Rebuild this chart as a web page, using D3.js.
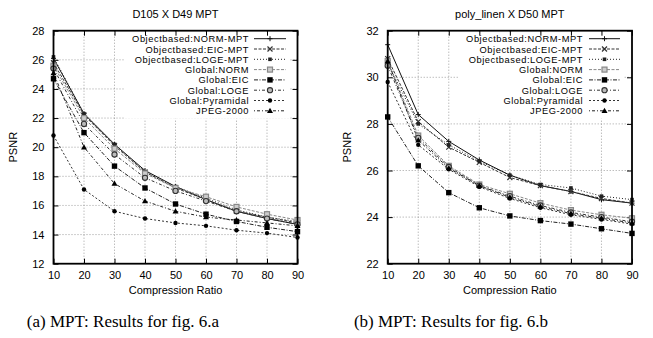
<!DOCTYPE html>
<html><head><meta charset="utf-8">
<script src="https://cdn.jsdelivr.net/npm/d3@7"></script>
<style>body{margin:0;background:#fff}svg{display:block}</style>
</head><body>
<script>
const xValues = [10,20,30,40,50,60,70,80,90];
const seriesNames = ["Objectbased:NORM-MPT","Objectbased:EIC-MPT","Objectbased:LOGE-MPT","Global:NORM","Global:EIC","Global:LOGE","Global:Pyramidal","JPEG-2000"];
const xTicks = [10,20,30,40,50,60,70,80,90];

// Left chart: D105 X D49 MPT
const leftTitle = "D105 X D49 MPT";
const leftYTicks = [12,14,16,18,20,22,24,26,28];
const leftNormMPT = [26.1,22.3,20.2,18.4,17.3,16.4,15.6,15.1,14.7];
const leftEicMPT  = [25.8,22.2,20.1,18.3,17.2,16.4,15.6,15.2,14.8];
const leftLogeMPT = [26.2,22.3,20.2,18.3,17.3,16.5,15.7,15.2,14.9];
const leftGNorm   = [25.6,22.0,19.9,18.2,17.2,16.6,15.9,15.4,15.0];
const leftGEic    = [24.7,21.0,18.7,17.2,16.1,15.4,14.9,14.5,14.2];
const leftGLoge   = [25.4,21.6,19.5,17.9,17.0,16.3,15.6,15.1,14.7];
const leftPyr     = [20.8,17.1,15.6,15.1,14.8,14.6,14.3,14.1,13.8];
const leftJpeg    = [25.1,20.0,17.5,16.3,15.6,15.2,15.0,14.8,14.6];

// Right chart: poly_linen X D50 MPT
const rightTitle = "poly_linen X D50 MPT";
const rightYTicks = [22,24,26,28,30,32];
const rightNormMPT = [31.4,28.4,27.25,26.45,25.8,25.35,25.1,24.75,24.6];
const rightEicMPT  = [30.8,28.1,27.0,26.35,25.7,25.35,25.1,24.8,24.6];
const rightLogeMPT = [30.6,28.0,27.1,26.4,25.8,25.4,25.25,24.9,24.75];
const rightGNorm   = [30.7,27.5,26.2,25.4,25.0,24.6,24.3,24.1,23.95];
const rightGEic    = [28.3,26.2,25.05,24.4,24.05,23.85,23.7,23.5,23.3];
const rightGLoge   = [30.5,27.4,26.15,25.35,24.9,24.5,24.2,24.0,23.8];
const rightPyr     = [29.8,27.1,26.05,25.3,24.8,24.4,24.1,23.9,23.7];
const rightJpeg    = [30.7,27.3,26.1,25.35,24.85,24.45,24.15,23.95,23.75];

const captions = ["(a) MPT: Results for fig. 6.a","(b) MPT: Results for fig. 6.b"];
const xLabel = "Compression Ratio", yLabel = "PSNR";

// styles per series
const styles = [
  {dash:null, color:"#111", marker:"plus"},
  {dash:"3,1.5", color:"#333", marker:"cross"},
  {dash:"1,2", color:"#222", marker:"smallsq"},
  {dash:"3,1.5", color:"#888", marker:"opensq"},
  {dash:"4,1.5,1,1.5", color:"#222", marker:"fillsq"},
  {dash:"3,2,1,2", color:"#333", marker:"opencirc"},
  {dash:"2,2", color:"#333", marker:"fillcirc"},
  {dash:"1,2,3,2", color:"#222", marker:"filltri"}
];

const svg = d3.select("body").append("svg").attr("width",653).attr("height",338)
  .style("font-family","'Liberation Sans', Arial, sans-serif");

function drawMarker(g, type, x, y, color){
  const s = 2.5;
  if(type==="plus"){
    g.append("path").attr("d",`M${x-s},${y}H${x+s}M${x},${y-s}V${y+s}`).attr("stroke",color).attr("stroke-width",1);
  } else if(type==="cross"){
    g.append("path").attr("d",`M${x-s},${y-s}L${x+s},${y+s}M${x-s},${y+s}L${x+s},${y-s}`).attr("stroke",color).attr("stroke-width",1.2);
  } else if(type==="smallsq"){
    g.append("rect").attr("x",x-1.8).attr("y",y-1.8).attr("width",3.6).attr("height",3.6).attr("fill",color);
  } else if(type==="opensq"){
    g.append("rect").attr("x",x-2.5).attr("y",y-2.5).attr("width",5).attr("height",5).attr("fill","#ccc").attr("stroke",color).attr("stroke-width",1.2);
  } else if(type==="fillsq"){
    g.append("rect").attr("x",x-2.7).attr("y",y-2.7).attr("width",5.4).attr("height",5.4).attr("fill","#000");
  } else if(type==="opencirc"){
    g.append("circle").attr("cx",x).attr("cy",y).attr("r",2.6).attr("fill","#bbb").attr("stroke",color).attr("stroke-width",1.1);
  } else if(type==="fillcirc"){
    g.append("circle").attr("cx",x).attr("cy",y).attr("r",2.2).attr("fill","#000");
  } else if(type==="filltri"){
    g.append("path").attr("d",`M${x},${y-3}L${x+3},${y+2.2}L${x-3},${y+2.2}Z`).attr("fill","#000");
  }
}

function chart(opts){
  const {x0,x1,y0,y1,title,yTicks,series,legendTextX,legendLineX0,legendLineX1} = opts;
  const g = svg.append("g");
  const x = d3.scaleLinear().domain([10,90]).range([x0,x1]);
  const y = d3.scaleLinear().domain([yTicks[0],yTicks[yTicks.length-1]]).range([y1,y0]);

  // grid
  const grid = g.append("g").attr("stroke","#888").attr("stroke-width",0.8).attr("stroke-dasharray","1,2");
  xTicks.slice(1,-1).forEach(t=>grid.append("line").attr("x1",x(t)).attr("x2",x(t)).attr("y1",y0).attr("y2",y1));
  yTicks.slice(1,-1).forEach(t=>grid.append("line").attr("x1",x0).attr("x2",x1).attr("y1",y(t)).attr("y2",y(t)));

  // legend background (hides grid)
  g.append("rect").attr("x",legendTextX-124).attr("y",y0+2).attr("width",legendLineX1-legendTextX+128).attr("height",86).attr("fill","#fff");

  // axes with inward ticks
  const axB = d3.axisBottom(x).tickValues(xTicks).tickSizeInner(-5).tickSizeOuter(0).tickPadding(8);
  const axL = d3.axisLeft(y).tickValues(yTicks).tickSizeInner(-5).tickSizeOuter(0).tickPadding(9);
  const axT = d3.axisTop(x).tickValues(xTicks).tickSizeInner(-5).tickSizeOuter(0).tickFormat("");
  const axR = d3.axisRight(y).tickValues(yTicks).tickSizeInner(-5).tickSizeOuter(0).tickFormat("");
  [[axB,`translate(0,${y1})`],[axL,`translate(${x0},0)`],[axT,`translate(0,${y0})`],[axR,`translate(${x1},0)`]].forEach(([a,t])=>{
    const ag = g.append("g").attr("transform",t).call(a);
    ag.select(".domain").remove();
    ag.selectAll("text").attr("font-size",11).attr("font-family","'Liberation Sans', Arial, sans-serif").attr("fill","#000");
    ag.selectAll("line").attr("stroke","#000");
  });

  // series
  const line = d3.line().x((d,i)=>x(xValues[i])).y(d=>y(d));
  series.forEach((s,k)=>{
    const st = styles[k];
    g.append("path").datum(s).attr("d",line).attr("fill","none").attr("stroke",st.color).attr("stroke-width",1)
      .attr("stroke-dasharray",st.dash);
  });
  series.forEach((s,k)=>{
    const st = styles[k];
    s.forEach((v,i)=>drawMarker(g,st.marker,x(xValues[i]),y(v),st.color));
  });

  // frame
  g.append("rect").attr("x",x0).attr("y",y0).attr("width",x1-x0).attr("height",y1-y0).attr("fill","none").attr("stroke","#000").attr("stroke-width",1.8);

  // legend
  seriesNames.forEach((n,k)=>{
    const ly = y0 + 8 + k*10.3;
    const st = styles[k];
    g.append("text").attr("x",legendTextX).attr("y",ly+3.5).attr("text-anchor","end").attr("font-size",9.3)
      .attr("letter-spacing",0.55).text(n);
    g.append("line").attr("x1",legendLineX0).attr("x2",legendLineX1).attr("y1",ly).attr("y2",ly)
      .attr("stroke",st.color).attr("stroke-width",1).attr("stroke-dasharray",st.dash);
    drawMarker(g,st.marker,(legendLineX0+legendLineX1)/2,ly,st.color);
  });

  // titles and labels
  const cx = (x0+x1)/2;
  g.append("text").attr("x",cx).attr("y",18).attr("text-anchor","middle").attr("font-size",11).text(title);
  g.append("text").attr("x",cx).attr("y",294).attr("text-anchor","middle").attr("font-size",11).text(xLabel);
  g.append("text").attr("transform",`translate(${x0-37},${(y0+y1)/2}) rotate(-90)`).attr("text-anchor","middle").attr("font-size",11).text(yLabel);
}

chart({x0:53.5,x1:297.5,y0:30.7,y1:263.7,title:leftTitle,yTicks:leftYTicks,
  series:[leftNormMPT,leftEicMPT,leftLogeMPT,leftGNorm,leftGEic,leftGLoge,leftPyr,leftJpeg],
  legendTextX:249,legendLineX0:254,legendLineX1:286});
chart({x0:387.7,x1:632,y0:30.7,y1:263.7,title:rightTitle,yTicks:rightYTicks,
  series:[rightNormMPT,rightEicMPT,rightLogeMPT,rightGNorm,rightGEic,rightGLoge,rightPyr,rightJpeg],
  legendTextX:583,legendLineX0:589,legendLineX1:620});

svg.append("text").attr("x",123).attr("y",327).attr("text-anchor","middle").attr("font-family","'Liberation Serif', 'Times New Roman', serif").attr("font-size",17).text(captions[0]);
svg.append("text").attr("x",451).attr("y",327).attr("text-anchor","middle").attr("font-family","'Liberation Serif', 'Times New Roman', serif").attr("font-size",17).text(captions[1]);
</script>
</body></html>
